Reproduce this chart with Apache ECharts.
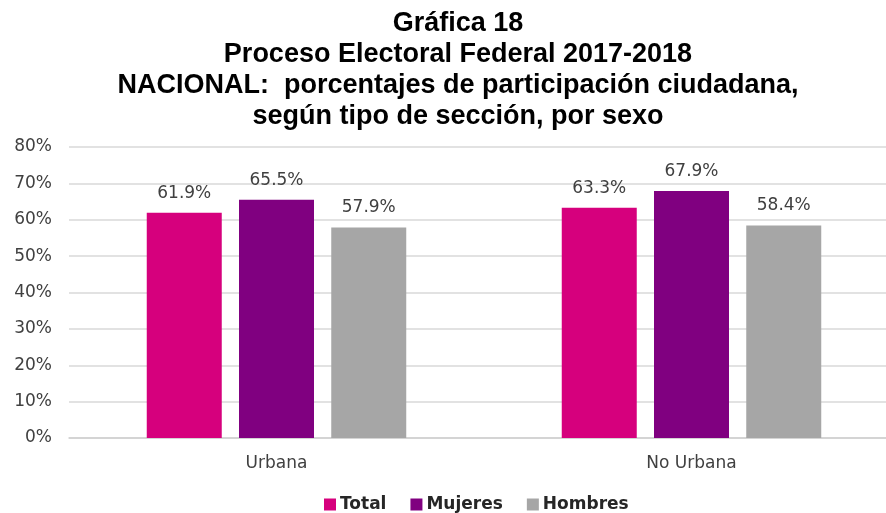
<!DOCTYPE html>
<html>
<head>
<meta charset="utf-8">
<script src="https://cdn.jsdelivr.net/npm/echarts@6/dist/echarts.min.js"></script>
<style>
  html, body { margin: 0; padding: 0; background: #fff; }
  #chart { width: 886px; height: 513px; }
</style>
</head>
<body>
<div id="chart"></div>
<script>
// datos de la gráfica
var categorias = ['Urbana', 'No Urbana'];
var total = [61.9, 63.3];
var mujeres = [65.5, 67.9];
var hombres = [57.9, 58.4];
var ticksY = [0, 10, 20, 30, 40, 50, 60, 70, 80];

var chart = echarts.init(document.getElementById('chart'));

var fuente = 'DejaVu Sans, Verdana, sans-serif';

var etiqueta = {
    show: true,
    position: 'top',
    distance: 11,
    color: '#404040',
    fontSize: 17,
    fontFamily: fuente,
    formatter: function (p) { return p.value.toFixed(1) + '%'; }
};

var serie = function (nombre, datos, color) {
    return {
        name: nombre,
        type: 'bar',
        data: datos,
        barWidth: 75,
        barGap: '23%',
        itemStyle: { color: color },
        label: etiqueta
    };
};

chart.setOption({
    animation: false,
    title: {
        text: 'Gráfica 18\nProceso Electoral Federal 2017-2018\nNACIONAL:  porcentajes de participación ciudadana,\nsegún tipo de sección, por sexo',
        left: 453,
        top: 3,
        textAlign: 'center',
        textStyle: {
            fontFamily: 'Liberation Sans, Arial, sans-serif',
            fontWeight: 'bold',
            fontSize: 27,
            lineHeight: 31,
            color: '#000'
        }
    },
    legend: {
        left: 319,
        top: 491,
        itemWidth: 12,
        itemHeight: 12,
        itemGap: 24,
        icon: 'rect',
        textStyle: {
            fontFamily: fuente,
            fontWeight: 'bold',
            fontSize: 17,
            color: '#262626',
            padding: [0, 0, 0, -1]
        }
    },
    grid: { left: 69, top: 147, width: 830, height: 291, outerBoundsMode: 'none' },
    xAxis: {
        type: 'category',
        data: categorias,
        axisLine: { lineStyle: { color: '#d0d0d0', width: 1.5 } },
        axisTick: { show: false },
        axisLabel: {
            margin: 17,
            color: '#404040',
            fontSize: 17,
            fontFamily: fuente
        }
    },
    yAxis: {
        type: 'value',
        min: ticksY[0],
        max: ticksY[ticksY.length - 1],
        interval: 10,
        axisLine: { show: false },
        axisTick: { show: false },
        splitLine: { lineStyle: { color: '#d9d9d9', width: 1.5 } },
        axisLabel: {
            margin: 17,
            color: '#404040',
            fontSize: 17,
            fontFamily: fuente,
            formatter: '{value}%'
        }
    },
    series: [
        serie('Total', total, '#d6007d'),
        serie('Mujeres', mujeres, '#800080'),
        serie('Hombres', hombres, '#a6a6a6')
    ]
});
</script>
</body>
</html>
